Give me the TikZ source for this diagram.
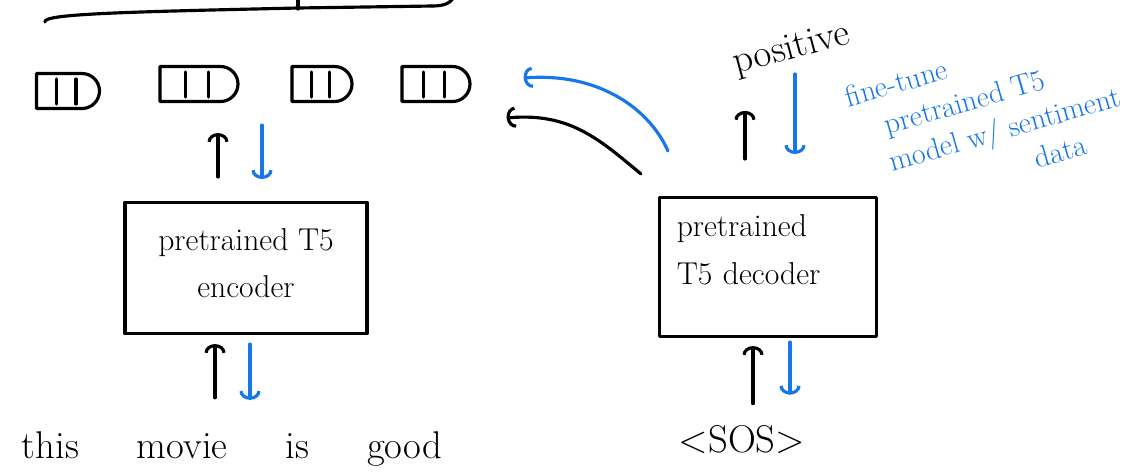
\documentclass[tikz,border=0pt]{standalone}
\usetikzlibrary{arrows.meta,shapes.misc,calc}
\definecolor{pen}{RGB}{22,119,232}
\tikzset{
  ink/.style={line width=1.8pt, line cap=round, line join=round},
  blk/.style={ink, draw=black},
  blu/.style={ink, draw=pen},
  arr/.style={-{Arc Barb[length=5pt,width=12pt]}},
  model/.style={draw, ink, rectangle, align=center, font=\fontsize{18}{27}\selectfont},
  tok/.style={draw, ink, rounded rectangle, rounded rectangle left arc=none, minimum height=0.7cm, inner sep=0pt},
  word/.style={inner sep=0pt, font=\fontsize{22}{26}\selectfont},
}
\begin{document}
\begin{tikzpicture}[x=0.02cm,y=-0.02cm]
\useasboundingbox (0,0) rectangle (1145,471);

% cut-off brace at the top
\draw[blk] (45,22) .. controls (42,14) and (120,12) .. (298,8) -- (432,6);
\draw[blk] (298,0) -- (298,9);
\draw[blk] (432,6) .. controls (445,6) and (452,3) .. (455,-6);

% token vectors
\node[tok, minimum width=1.26cm] (tok1) at (68,91) {};
\node[tok, minimum width=1.56cm] (tok2) at (199,84) {};
\node[tok, minimum width=1.2cm]  (tok3) at (322,84) {};
\node[tok, minimum width=1.36cm] (tok4) at (436,84) {};
\foreach \t in {tok1,tok2,tok3,tok4}{
  \foreach \f in {0.33,0.62}{
    \draw[blk] ($(\t.west)!\f!(\t.east)+(0,-12)$) -- ($(\t.west)!\f!(\t.east)+(0,13)$);
  }
}

% models
\node[model, minimum width=4.84cm, minimum height=2.62cm] (enc) at (246,268) {pretrained T5\\encoder\rule[-0.2cm]{0pt}{0pt}};
\node[model, align=left, text width=3.65cm, minimum width=4.34cm, minimum height=2.78cm] (dec) at (768,267) {pretrained\\T5 decoder\rule[-0.7cm]{0pt}{0pt}};

% texts
\node[word, anchor=base] (words) at (232,458) {this\hspace{1.5em}movie\hspace{1.5em}is\hspace{1.5em}good};
\node[word, anchor=base] (sos) at (742,452) {\textless SOS\textgreater};
\node[word, rotate=15] (pos) at (792,50) {positive};
\node[inner sep=0pt, rotate=16, align=left, text=pen, font=\fontsize{17}{21}\selectfont] (note) at (988,114)
  {fine-tune\\\hspace*{1em}pretrained T5\\\hspace*{0.8em}model w/ sentiment\\\hspace*{5.5em}data};

% encoder arrows
\draw[blk,arr] ($(enc.north)+(-28,-24)$) -- ($(tok2.south)+(19,30)$);
\draw[blu,arr] ($(tok2.south)+(63,22)$) -- ($(enc.north)+(16,-22)$);
\draw[blk,arr] ($(words.north)+(-17,-33)$) -- ($(enc.south)+(-31,9)$);
\draw[blu,arr] ($(enc.south)+(4,9)$) -- ($(words.north)+(18,-31)$);

% decoder arrows
\draw[blk,arr] ($(sos.north)+(11,-21)$) -- ($(dec.south)+(-15,8)$);
\draw[blu,arr] ($(dec.south)+(22,4)$) -- ($(sos.north)+(48,-30)$);
\draw[blk,arr] ($(dec.north)+(-23,-37)$) -- ($(dec.north)+(-23,-85)$);
\draw[blu,arr] ($(dec.north)+(27,-122)$) -- ($(dec.north)+(27,-42)$);

% feedback curves
\draw[blu,arr] ($(dec.north west)+(10,-45)$) .. controls (650,110) and (600,72) .. ($(tok4.east)+(52,-6)$);
\draw[blk,arr] ($(dec.north west)+(-17,-22)$) .. controls (600,140) and (570,112) .. ($(tok4.east)+(35,34)$);
\end{tikzpicture}
\end{document}
